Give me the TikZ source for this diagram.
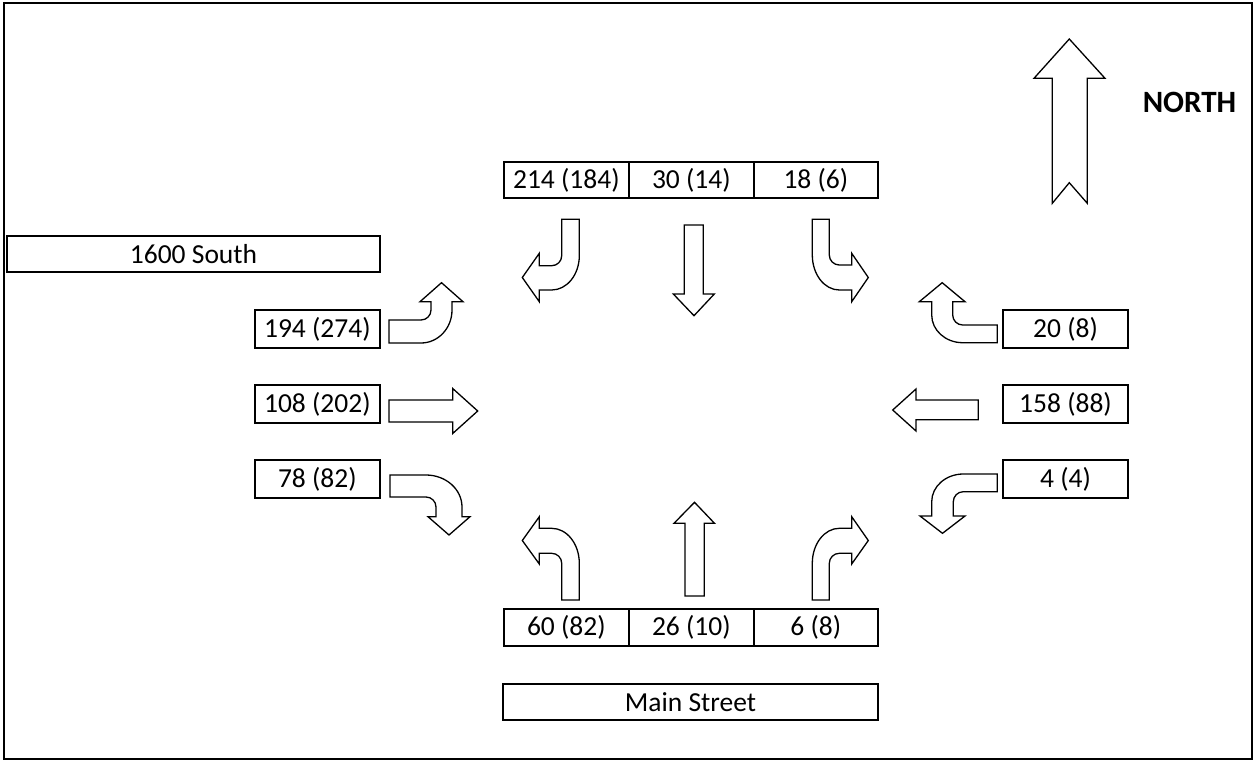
\documentclass[tikz,border=0pt]{standalone}
\usepackage{fontspec}
\setmainfont{Carlito}
\begin{document}
\begin{tikzpicture}[x=1pt,y=-1pt,
  box/.style={draw,line width=1.8pt,rectangle,inner sep=0pt,font=\fontsize{27.5}{32}\selectfont},
  blockarrow/.style={draw,line width=1.3pt,fill=white,line join=miter}]
\useasboundingbox (0,0) rectangle (1254,761);
\draw[line width=1.5pt] (4,3) rectangle (1252,759);

% top boxes
\node[box,minimum width=124.7pt,minimum height=35.7pt] (t1) at (566.35,179.85) {214 (184)};
\node[box,minimum width=125.3pt,minimum height=35.7pt] (t2) at (691.35,179.85) {30 (14)};
\node[box,minimum width=123.7pt,minimum height=35.7pt] (t3) at (815.85,179.85) {18 (6)};
% bottom boxes
\node[box,minimum width=124.7pt,minimum height=36.7pt] (b1) at (566.35,627.35) {60 (82)};
\node[box,minimum width=125.3pt,minimum height=36.7pt] (b2) at (691.35,627.35) {26 (10)};
\node[box,minimum width=123.7pt,minimum height=36.7pt] (b3) at (815.85,627.35) {6 (8)};
% street names
\node[box,minimum width=375pt,minimum height=36pt] (main) at (690.5,702) {Main Street};
\node[box,minimum width=373pt,minimum height=36pt] (south) at (193.5,254) {1600 South};
% left boxes
\node[box,minimum width=125.3pt,minimum height=37.7pt] (l1) at (317.35,328.85) {194 (274)};
\node[box,minimum width=125.3pt,minimum height=37.7pt] (l2) at (317.35,403.85) {108 (202)};
\node[box,minimum width=125.3pt,minimum height=37.7pt] (l3) at (317.35,478.85) {78 (82)};
% right boxes
\node[box,minimum width=125.6pt,minimum height=37.7pt] (r1) at (1065.5,329) {20 (8)};
\node[box,minimum width=125.6pt,minimum height=37.7pt] (r2) at (1065.5,404) {158 (88)};
\node[box,minimum width=125.6pt,minimum height=37.7pt] (r3) at (1065.5,478.85) {4 (4)};

% north arrow and label
\draw[blockarrow] (1069.3,39) -- (1105,78.3) -- (1087.3,78.3) -- (1087.3,203.3) -- (1069.3,182.7) -- (1052.3,203.3) -- (1052.3,78.3) -- (1034,78.3) -- cycle;
\node[font=\fontsize{31}{36}\selectfont\bfseries] (north) at (1189.5,102) {NORTH};

% west approach
\draw[blockarrow] (389,320) -- (421,320) arc[start angle=90,end angle=0,radius=10] -- (431,301.7) -- (420,301.7) -- (441.5,282.7) -- (463,301.7) -- (452,301.7) -- (452,310) arc[start angle=0,end angle=90,x radius=31,y radius=33] -- (389,343) -- cycle;
\draw[blockarrow] (389,400) -- (452.7,400) -- (452.7,388.5) -- (477.7,411) -- (452.7,433.5) -- (452.7,422) -- (389,422) -- cycle;
\draw[blockarrow] (390,497) -- (426,497) arc[start angle=-90,end angle=0,radius=10] -- (436,516.7) -- (428,516.7) -- (449,535) -- (470,516.7) -- (462,516.7) -- (462,507) arc[start angle=0,end angle=-90,x radius=36,y radius=32] -- (390,475) -- cycle;

% east approach
\draw[blockarrow] (997.3,325) -- (962.7,325) arc[start angle=90,end angle=180,radius=10] -- (952.7,301.7) -- (965,301.7) -- (942.2,282.7) -- (919.3,301.7) -- (931.7,301.7) -- (931.7,315) arc[start angle=180,end angle=90,x radius=31,y radius=27.7] -- (997.3,342.7) -- cycle;
\draw[blockarrow] (978.3,400) -- (916,400) -- (916,389) -- (892.7,410) -- (916,431) -- (916,419.7) -- (978.3,419.7) -- cycle;
\draw[blockarrow] (997.3,491.7) -- (963.3,491.7) arc[start angle=-90,end angle=-180,radius=10] -- (953.3,516) -- (965,516) -- (942.5,533.3) -- (920,516) -- (931.7,516) -- (931.7,501.7) arc[start angle=-180,end angle=-90,x radius=31.6,y radius=27.7] -- (997.3,474) -- cycle;

% north approach
\draw[blockarrow] (561.7,219.3) -- (561.7,255.7) arc[start angle=0,end angle=90,radius=10] -- (539.3,265.7) -- (539.3,253.3) -- (522.3,277.5) -- (539.3,301.7) -- (539.3,290) -- (551.7,290) arc[start angle=90,end angle=0,x radius=27.6,y radius=34.3] -- (579.3,219.3) -- cycle;
\draw[blockarrow] (684.3,225) -- (684.3,294) -- (673.3,294) -- (694,315.7) -- (714.3,294) -- (703.3,294) -- (703.3,225) -- cycle;
\draw[blockarrow] (829.3,219.3) -- (829.3,255) arc[start angle=180,end angle=90,radius=10] -- (851.7,265) -- (851.7,253.3) -- (868.3,277.5) -- (851.7,301.7) -- (851.7,290) -- (839.3,290) arc[start angle=90,end angle=180,x radius=27,y radius=35] -- (812.3,219.3) -- cycle;

% south approach
\draw[blockarrow] (561.7,600) -- (561.7,563.3) arc[start angle=0,end angle=-90,radius=10] -- (539.3,553.3) -- (539.3,564) -- (522.3,540.5) -- (539.3,516.7) -- (539.3,528.3) -- (551.7,528.3) arc[start angle=-90,end angle=0,x radius=27.6,y radius=35] -- (579.3,600) -- cycle;
\draw[blockarrow] (685,596) -- (685,523.3) -- (674,523.3) -- (694.5,502.3) -- (714.5,523.3) -- (704.3,523.3) -- (704.3,596) -- cycle;
\draw[blockarrow] (829.3,600) -- (829.3,563.3) arc[start angle=180,end angle=270,radius=10] -- (851.7,553.3) -- (851.7,564) -- (868.3,540.5) -- (851.7,516.7) -- (851.7,528.3) -- (839.3,528.3) arc[start angle=270,end angle=180,x radius=27,y radius=35] -- (812.3,600) -- cycle;
\end{tikzpicture}
\end{document}
